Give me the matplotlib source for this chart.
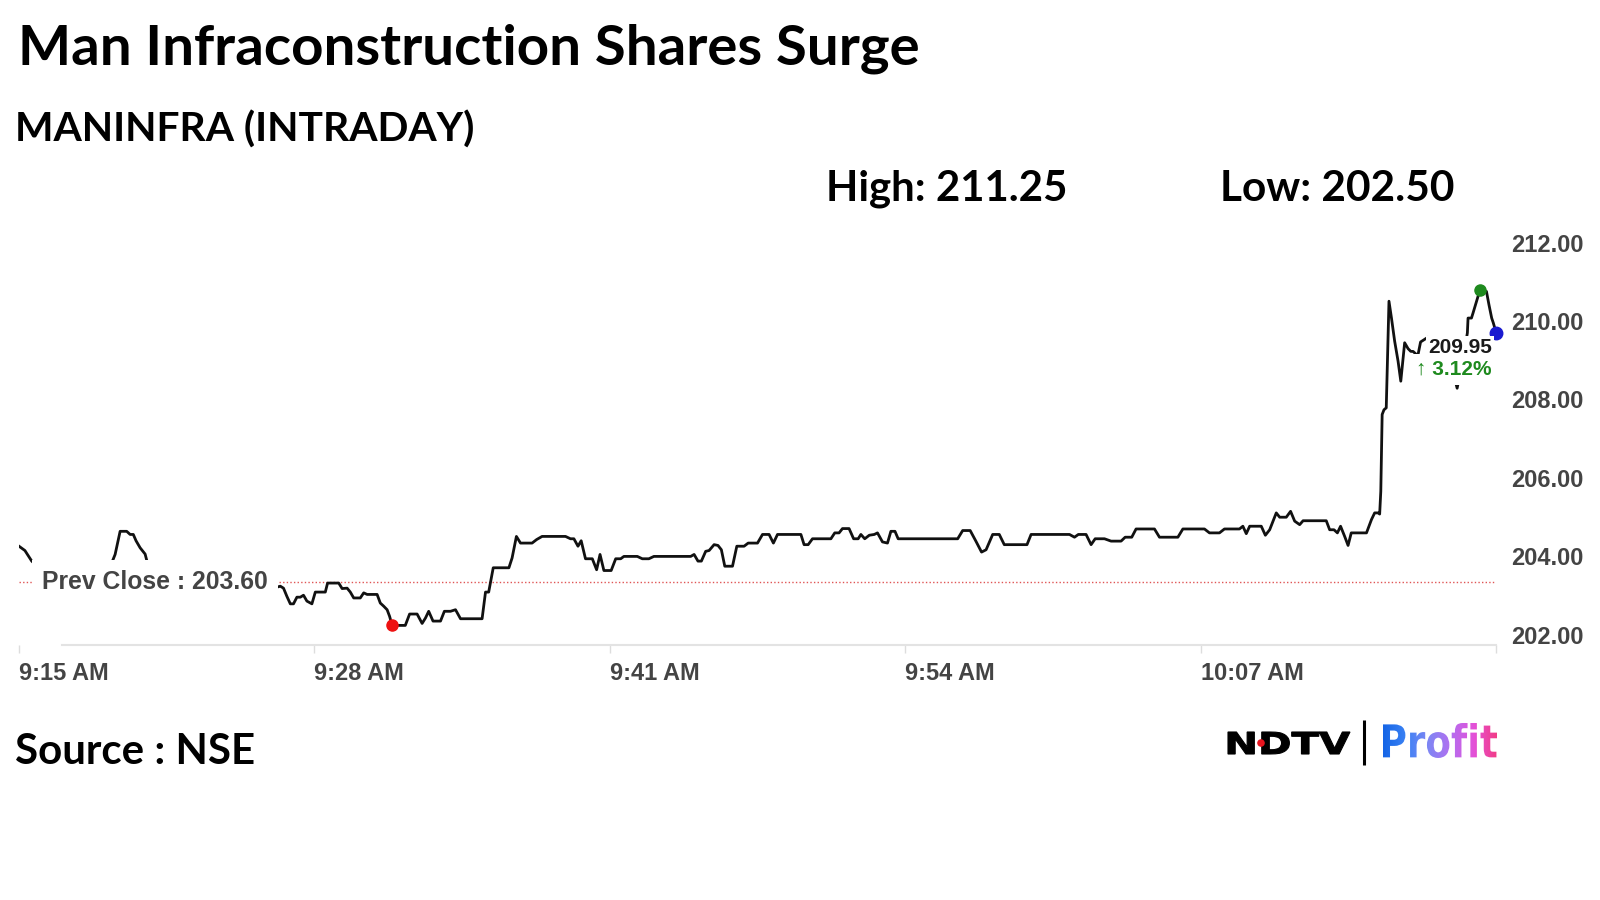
import numpy as np
import matplotlib
matplotlib.use("Agg")
import matplotlib.pyplot as plt
import matplotlib.transforms as mtransforms
from matplotlib.textpath import TextPath
from matplotlib.patches import PathPatch, Circle
from matplotlib.font_manager import FontProperties
from matplotlib.colors import LinearSegmentedColormap

# ---- data (minutes after 9:15 AM, price in Rs) ----
minutes = [
    0.00, 0.26, 0.56, 0.71, 1.20, 1.90, 2.60, 3.30, 4.05, 4.23, 4.45, 4.74, 4.89, 5.03, 5.15, 5.33,
    5.55, 5.67, 6.40, 7.30, 8.20, 9.10, 10.00, 10.80, 11.32, 11.50, 11.64, 11.79, 11.94, 12.08, 12.23,
    12.38, 12.52, 12.67, 12.89, 13.04, 13.26, 13.48, 13.58, 14.07, 14.22, 14.44, 14.58, 14.73, 15.02,
    15.17, 15.32, 15.76, 15.90, 16.05, 16.20, 16.31, 16.42, 17.00, 17.19, 17.52, 17.74, 17.89, 18.03,
    18.22, 18.55, 18.72, 18.99, 19.21, 19.43, 20.38, 20.53, 20.67, 20.87, 21.56, 21.70, 21.89, 22.07,
    22.58, 22.78, 23.02, 24.05, 24.27, 24.42, 24.60, 24.74, 24.93, 25.23, 25.42, 25.57, 25.74, 26.06,
    26.26, 26.48, 26.62, 27.21, 27.43, 27.72, 27.94, 29.56, 29.71, 29.88, 30.03, 30.22, 30.37, 30.59,
    30.76, 30.91, 31.06, 31.40, 31.59, 31.91, 32.09, 32.50, 32.72, 33.01, 33.20, 33.38, 34.41, 34.55,
    34.73, 34.92, 35.73, 35.90, 36.09, 36.24, 36.53, 36.73, 36.93, 37.05, 37.22, 37.42, 37.64, 37.78,
    38.00, 38.22, 38.37, 38.55, 38.69, 41.31, 41.53, 41.86, 42.11, 42.36, 42.56, 42.85, 43.14, 43.36,
    44.36, 44.54, 46.23, 46.45, 46.62, 46.96, 47.18, 47.36, 47.77, 48.06, 48.50, 48.68, 48.97, 49.16,
    49.97, 50.19, 51.00, 51.22, 52.17, 52.39, 52.83, 53.05, 53.71, 53.86, 54.01, 54.16, 54.67, 54.85,
    55.04, 55.33, 55.48, 55.77, 55.96, 56.14, 56.36, 56.51, 57.53, 57.68, 57.87, 58.02, 58.16, 58.34,
    58.49, 58.63, 59.30, 59.52, 59.66, 59.81, 59.88, 59.93, 59.99, 60.07, 60.17, 60.25, 60.29, 60.40,
    60.54, 60.69, 60.81, 60.91, 60.98, 61.13, 61.25, 61.35, 61.50, 61.57, 61.68, 62.00, 62.50, 63.00,
    63.29, 63.55, 63.74, 63.77, 63.92, 63.99, 64.29, 64.58, 64.69, 64.81, 64.88, 64.98, 65.00,
]
prices = [
    204.52, 204.41, 204.14, 204.06, 203.90, 203.78, 203.70, 203.82, 204.05, 204.31, 204.90, 204.90,
    204.82, 204.82, 204.66, 204.48, 204.32, 204.05, 203.90, 203.80, 203.72, 203.66, 203.58, 203.52,
    203.47, 203.50, 203.45, 203.24, 203.05, 203.05, 203.22, 203.22, 203.27, 203.12, 203.05, 203.35,
    203.35, 203.35, 203.58, 203.58, 203.44, 203.45, 203.35, 203.20, 203.20, 203.33, 203.29, 203.29,
    203.07, 202.99, 202.90, 202.73, 202.50, 202.50, 202.79, 202.79, 202.55, 202.69, 202.86, 202.61,
    202.61, 202.86, 202.86, 202.90, 202.67, 202.67, 203.35, 203.35, 203.97, 203.97, 204.22, 204.77,
    204.60, 204.60, 204.69, 204.77, 204.77, 204.71, 204.71, 204.52, 204.66, 204.20, 204.20, 203.92,
    204.31, 203.90, 203.90, 204.20, 204.20, 204.26, 204.26, 204.20, 204.20, 204.26, 204.26, 204.31,
    204.14, 204.14, 204.39, 204.41, 204.56, 204.54, 204.43, 204.01, 204.01, 204.52, 204.52, 204.60,
    204.60, 204.82, 204.82, 204.60, 204.82, 204.82, 204.56, 204.56, 204.71, 204.71, 204.86, 204.86,
    204.97, 204.97, 204.71, 204.71, 204.82, 204.71, 204.80, 204.82, 204.86, 204.63, 204.60, 204.90,
    204.90, 204.71, 204.71, 204.92, 204.92, 204.65, 204.37, 204.43, 204.82, 204.82, 204.56, 204.56,
    204.82, 204.82, 204.75, 204.82, 204.82, 204.56, 204.71, 204.71, 204.65, 204.65, 204.75, 204.75,
    204.96, 204.96, 204.75, 204.75, 204.96, 204.96, 204.86, 204.86, 204.96, 204.96, 205.03, 204.84,
    205.03, 205.03, 204.80, 204.94, 205.37, 205.26, 205.26, 205.41, 205.16, 205.07, 205.17, 205.17,
    204.94, 204.94, 204.86, 205.03, 204.77, 204.54, 204.86, 204.86, 205.20, 205.37, 205.37, 205.34,
    205.92, 207.88, 208.00, 208.05, 209.83, 210.77, 210.34, 209.75, 209.24, 208.73, 209.32, 209.71,
    209.56, 209.49, 209.49, 209.41, 209.41, 209.73, 209.85, 209.60, 209.20, 208.55, 209.30, 209.96,
    210.34, 210.34, 210.47, 211.05, 211.02, 210.68, 210.34, 210.22, 210.02, 209.95,
]
prev_close = 203.60
day_high = 211.25
day_low = 202.50
change_pct = 3.12

x_ticks = [0, 13, 26, 39, 52, 65]
x_labels = ["9:15 AM", "9:28 AM", "9:41 AM", "9:54 AM", "10:07 AM", ""]
y_ticks = [202, 204, 206, 208, 210, 212]

TITLE = "Man Infraconstruction Shares Surge"
SUBTITLE = "MANINFRA (INTRADAY)"
SOURCE = "Source : NSE"

t = np.array(minutes)
p = np.array(prices)

fig = plt.figure(figsize=(16, 9), dpi=100)
fig.patch.set_facecolor("white")
renderer = fig.canvas.get_renderer()

# main plot area: pixels 19..1496 horizontally, 253..645 vertically
ax = fig.add_axes([19 / 1600, (900 - 645) / 900, 1477 / 1600, (645 - 253) / 900])
ax.set_xlim(0, 65)
ax.set_ylim(202, 212)
ax.patch.set_alpha(0)

ax.axhline(prev_close, color="#e05555", lw=1.0, ls=(0, (1, 1.6)), zorder=2)
ax.plot(t, p, color="#111111", lw=2.0, zorder=3)

i_lo = int(np.argmin(p))
i_hi = int(np.argmax(p))
ax.plot(t[i_lo], p[i_lo], "o", color="#ee1111", ms=8, zorder=4, clip_on=False)
ax.plot(t[i_hi], p[i_hi], "o", color="#1e8a1e", ms=8, zorder=4, clip_on=False)
ax.plot(t[-1], p[-1], "o", color="#1a1ad0", ms=9, zorder=4, clip_on=False)

lab_font = ["Liberation Sans", "DejaVu Sans"]

# prev close label with white box
ax.annotate(f"Prev Close : {prev_close:.2f}", xy=(0, prev_close), xytext=(23, 0),
            textcoords="offset pixels", ha="left", va="center", fontsize=17.8,
            fontweight="bold", color="#444444", family=lab_font, zorder=6,
            bbox=dict(boxstyle="square,pad=0.4", fc="white", ec="none"))

# last price label
ax.annotate(f"{p[-1]:.2f}", xy=(t[-1], p[-1]), xytext=(-4, -14),
            textcoords="offset pixels", ha="right", va="center", fontsize=15,
            fontweight="bold", color="#1a1a1a", family=lab_font, zorder=6,
            bbox=dict(boxstyle="square,pad=0.08", fc="white", ec="none"))
ax.annotate(f"\u2191 {change_pct:.2f}%", xy=(t[-1], p[-1]), xytext=(-4, -36),
            textcoords="offset pixels", ha="right", va="center", fontsize=15,
            fontweight="bold", color="#1e8a1e", family=lab_font, zorder=6,
            bbox=dict(boxstyle="square,pad=0.3", fc="white", ec="none"))

# axes styling
for side in ["top", "left", "right"]:
    ax.spines[side].set_visible(False)
ax.spines["bottom"].set_color("#e3e3e3")
ax.spines["bottom"].set_linewidth(1.5)
ax.spines["bottom"].set_bounds(1.9, 65)
ax.set_yticks([])
ax.set_xticks(x_ticks)
ax.set_xticklabels(x_labels)
ax.tick_params(axis="x", length=6, width=1, color="#dddddd", pad=6,
               labelsize=17, labelcolor="#444444")
for lab in ax.get_xticklabels():
    lab.set_ha("left")
    lab.set_fontweight("bold")
    lab.set_family(lab_font)

ylab_tr = mtransforms.blended_transform_factory(ax.transAxes, ax.transData) + \
    mtransforms.ScaledTranslation(15 / 100, 8 / 100, fig.dpi_scale_trans)
for val in y_ticks:
    ax.text(1.0, val, f"{val:.2f}", transform=ylab_tr, ha="left", va="center",
            fontsize=17, fontweight="bold", color="#444444", family=lab_font)

# overlay in pixel coordinates for headings and logo
ov = fig.add_axes([0, 0, 1, 1])
ov.set_xlim(0, 1600)
ov.set_ylim(900, 0)
ov.axis("off")


def put_text(s, x, y, width, weight="bold"):
    txt = ov.text(x, y, s, ha="left", va="baseline", fontsize=30, fontweight=weight,
                  color="black", family=["Lato", "DejaVu Sans"])
    w = txt.get_window_extent(renderer).width
    txt.set_fontsize(txt.get_fontsize() * width / w)
    return txt


put_text(TITLE, 18, 64, 900)
put_text(SUBTITLE, 15, 142, 459)
put_text(f"High: {day_high:.2f}", 826, 201, 241)
put_text(f"Low: {day_low:.2f}", 1220, 201, 234)
put_text(SOURCE, 15, 764, 240)


def fit_path(s, prop, x0, x1, ytop, ybot):
    tp = TextPath((0, 0), s, size=50, prop=prop)
    ext = tp.get_extents()
    tr = mtransforms.Affine2D().translate(-ext.x0, -ext.y0) \
        .scale((x1 - x0) / ext.width, -(ybot - ytop) / ext.height).translate(x0, ybot)
    return tr.transform_path(tp)


# NDTV | Profit logo
ndtv = fit_path("NDTV", FontProperties(family="DejaVu Sans", weight="bold"), 1228, 1350, 732, 754)
ov.add_patch(PathPatch(ndtv, fc="black", ec="black", lw=0.8))
ov.add_patch(Circle((1261, 743), 3.8, fc="#e8141e", ec="none", zorder=5))
ov.plot([1363.5, 1363.5], [720, 765], color="black", lw=2.2, solid_capstyle="butt")

profit = fit_path("Profit", FontProperties(family="DejaVu Sans", weight="bold"), 1383, 1497, 723, 758)
profit_patch = PathPatch(profit, fc="none", lw=0)
ov.add_patch(profit_patch)
grad_cmap = LinearSegmentedColormap.from_list(
    "profit", ["#1565e6", "#3b82f4", "#7f86f4", "#b46ef0", "#e451d8", "#f23c86"])
im = ov.imshow(np.linspace(0, 1, 256).reshape(1, -1), cmap=grad_cmap, aspect="auto",
               extent=(1383, 1497, 758, 723))
im.set_clip_path(profit_patch)
ov.set_xlim(0, 1600)
ov.set_ylim(900, 0)

fig.savefig("out.png", dpi=100, facecolor="white")
